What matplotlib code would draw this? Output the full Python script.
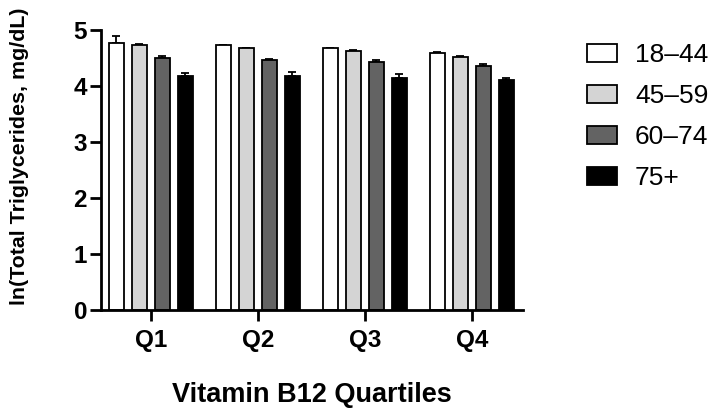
import matplotlib
matplotlib.use("Agg")
import matplotlib.pyplot as plt
import numpy as np

quartiles = ["Q1", "Q2", "Q3", "Q4"]
groups = ["18–44", "45–59", "60–74", "75+"]
means_18_44 = [4.76, 4.73, 4.67, 4.59]
means_45_59 = [4.74, 4.67, 4.63, 4.52]
means_60_74 = [4.50, 4.46, 4.43, 4.36]
means_75p = [4.18, 4.18, 4.15, 4.10]
err_18_44 = [0.14, 0.01, 0.01, 0.01]
err_45_59 = [0.01, 0.01, 0.01, 0.01]
err_60_74 = [0.03, 0.03, 0.03, 0.03]
err_75p = [0.06, 0.07, 0.06, 0.04]

colors = ["#ffffff", "#d4d4d4", "#636363", "#000000"]

plt.rcParams['font.family'] = ['Liberation Sans', 'DejaVu Sans']

fig = plt.figure(figsize=(7.16, 4.11), dpi=100)
ax = fig.add_axes([101/716, 1-310/411, 422/716, 280/411])

x = np.arange(len(quartiles))
width = 0.14
step = 0.215
all_means = [means_18_44, means_45_59, means_60_74, means_75p]
all_errs = [err_18_44, err_45_59, err_60_74, err_75p]
for i, (m, e, c, g) in enumerate(zip(all_means, all_errs, colors, groups)):
    pos = x + (i - 1.5) * step
    ax.bar(pos, m, width, color=c, edgecolor="black", linewidth=1.3, label=g, zorder=2)
    ax.errorbar(pos, m, yerr=[np.zeros(len(e)), e], fmt="none", ecolor="black",
                elinewidth=1.3, capsize=3, capthick=1.3, zorder=1)

ax.set_xlim(-0.467, 3.477)
ax.set_ylim(0, 5)
ax.set_yticks([0, 1, 2, 3, 4, 5])
ax.set_xticks(x)
ax.set_xticklabels(quartiles, fontsize=17.5, fontweight="bold")
for t in ax.get_yticklabels():
    t.set_fontsize(17.5)
    t.set_fontweight("bold")
ax.spines["top"].set_visible(False)
ax.spines["right"].set_visible(False)
ax.spines["left"].set_linewidth(2)
ax.spines["bottom"].set_linewidth(2)
ax.tick_params(axis="both", width=2, length=8, direction="out")
ax.tick_params(axis="x", pad=6)
ax.tick_params(axis="y", pad=2)

fig.text(312/716, 1-395/411, "Vitamin B12 Quartiles", fontsize=19.5, fontweight="bold",
         ha="center", va="center")
fig.text(20/716, 1-156/411, "ln(Total Triglycerides, mg/dL)", fontsize=15.4, fontweight="bold",
         ha="center", va="center", rotation=90)

leg = ax.legend(loc="upper left", bbox_to_anchor=(587/716, 1-43/411), bbox_transform=fig.transFigure,
                frameon=False, fontsize=19, handlelength=1.14, handleheight=0.68,
                labelspacing=0.65, handletextpad=0.68, borderpad=0, borderaxespad=0)

fig.savefig("out.png", dpi=100)
